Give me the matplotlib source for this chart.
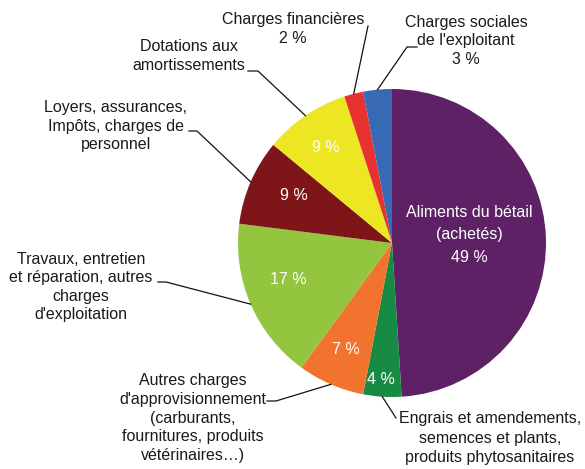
import matplotlib
matplotlib.use('Agg')
import matplotlib.pyplot as plt
import numpy as np

plt.rcParams['font.family'] = ['Liberation Sans', 'DejaVu Sans']

# ---- data ----
categories = [
    "Aliments du bétail (achetés)",
    "Engrais et amendements,\nsemences et plants,\nproduits phytosanitaires",
    "Autres charges\nd'approvisionnement\n(carburants,\nfournitures, produits\nvétérinaires…)",
    "Travaux, entretien\net réparation, autres\ncharges\nd'exploitation",
    "Loyers, assurances,\nImpôts, charges de\npersonnel",
    "Dotations aux\namortissements",
    "Charges financières",
    "Charges sociales\nde l'exploitant",
]
values = [49, 4, 7, 17, 9, 9, 2, 3]
colors = ["#5E2166", "#178A43", "#F2732E", "#93C53E", "#7E1518",
          "#EDE622", "#E83230", "#386AB4"]

# ---- figure in pixel coordinates (y down) ----
W, H = 585, 469
fig = plt.figure(figsize=(W / 100, H / 100), dpi=100)
ax = fig.add_axes([0, 0, 1, 1])
cx, cy, R = 392, 243, 154
wedges, _ = ax.pie(values, colors=colors, startangle=-90, counterclock=True,
                   radius=R, center=(cx, cy), wedgeprops=dict(linewidth=0))
ax.set_xlim(0, W)
ax.set_ylim(H, 0)
ax.set_aspect('equal')
ax.axis('off')

txt = '#1a1a1a'
fs = 11.5
ls = 1.3

# inside percent labels (white)
inside = {
    0: ((469, 235), "Aliments du bétail\n(achetés)\n49 %", 1.62),
    1: ((381, 380), "4 %", 1.3),
    2: ((346, 350), "7 %", 1.3),
    3: ((288, 280), "17 %", 1.3),
    4: ((294, 195), "9 %", 1.3),
    5: ((326, 147), "9 %", 1.3),
}
for i, ((x, y), s, l) in inside.items():
    ax.text(x, y, s, color='white', fontsize=fs, ha='center', va='center',
            linespacing=l, multialignment='center')

def anchor(i):
    w = wedges[i]
    a = np.deg2rad((w.theta1 + w.theta2) / 2)
    return cx + R * np.cos(a), cy + R * np.sin(a)

# outside labels: index -> (text pos, text, leader path from label side)
outside = [
    (1, (490, 438), categories[1], [(396, 418)], 1.4),
    (2, (193, 418), categories[2], [(267, 401), (276, 401)], ls),
    (3, (81, 287), categories[3], [(158, 282), (166, 282)], ls),
    (4, (116, 126), categories[4], [(189, 131), (197, 131)], ls),
    (5, (189, 56), categories[5], [(248, 71), (258, 71)], ls),
    (6, (293, 29), categories[6] + "\n2 %", [(368, 26)], ls),
    (7, (466, 41), categories[7] + "\n3 %", [(417, 47), (407, 47)], ls),
]
for i, (x, y), s, path, l in outside:
    ax.text(x, y, s, color=txt, fontsize=fs, ha='center', va='center',
            linespacing=l, multialignment='center')
    ax_, ay_ = anchor(i)
    pts = path + [(ax_, ay_)]
    ax.plot([p[0] for p in pts], [p[1] for p in pts], color='#111111', lw=0.9)

fig.savefig('out.png', dpi=100)
